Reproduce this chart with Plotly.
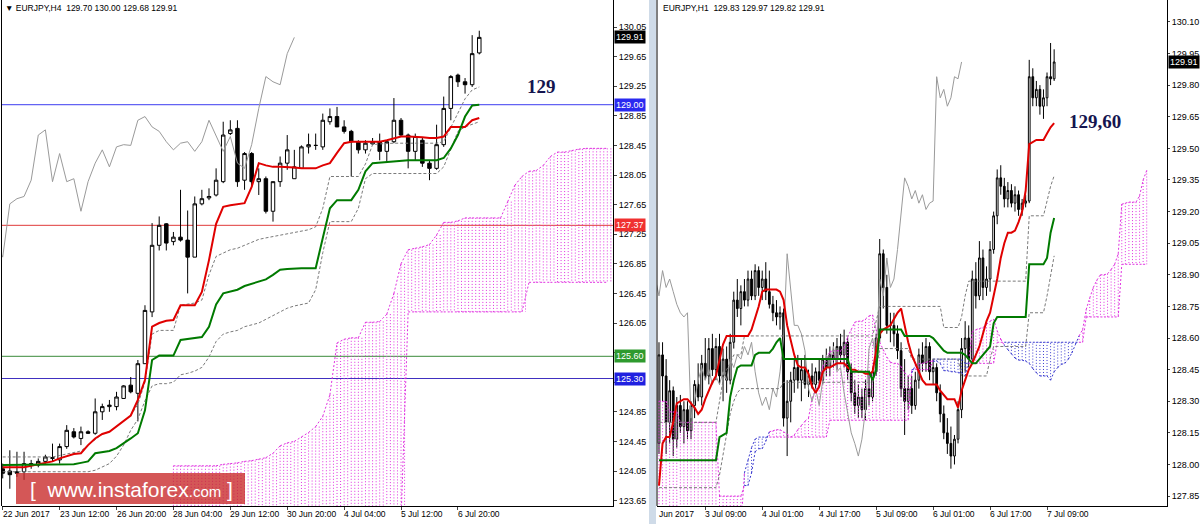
import plotly.graph_objects as go

W, H = 1200, 524

# ---------------- Left panel: EURJPY, H4 ----------------
L_open = [124.08,124.05,124.04,124.04,124.13,124.13,124.18,124.22,124.20,124.38,
          124.58,124.49,124.58,124.56,124.85,124.92,124.92,125.03,125.21,125.10,
          125.50,126.20,127.10,127.39,127.15,127.21,127.17,126.94,127.66,127.74,
          127.78,127.96,128.61,128.68,127.98,128.34,127.96,128.00,127.56,127.96,
          128.21,128.00,128.14,128.43,128.45,128.43,128.77,128.84,128.70,128.64,
          128.50,128.39,128.47,128.50,128.37,128.50,128.79,128.59,128.37,128.52,
          128.21,128.14,128.46,128.95,129.40,129.31,129.27,129.70]
L_high = [124.15,124.33,124.31,124.31,124.20,124.22,124.27,124.42,124.42,124.67,
          124.63,124.65,124.60,125.03,124.96,125.01,125.12,125.21,125.32,125.55,
          126.29,127.40,127.49,127.40,127.28,127.85,127.57,127.76,127.85,127.87,
          128.14,128.77,128.79,128.79,128.36,128.36,128.14,128.03,127.96,128.30,
          128.59,128.39,128.45,128.61,128.61,128.88,128.95,128.97,128.79,128.66,
          128.52,128.52,128.55,128.61,128.52,129.09,128.82,128.61,128.61,128.55,
          128.25,128.73,129.11,129.40,129.42,129.36,129.94,130.00]
L_low = [123.95,123.81,123.97,123.93,124.08,124.10,124.15,124.18,124.15,124.35,
         124.49,124.40,124.55,124.54,124.74,124.85,124.87,125.03,125.10,124.72,
         125.50,126.13,127.03,127.03,127.10,127.15,126.45,126.94,127.64,127.71,
         127.76,127.94,128.59,127.89,127.85,127.89,127.78,127.53,127.42,127.89,
         128.12,128.00,128.14,128.34,128.39,128.39,128.73,128.70,128.61,128.03,
         128.34,128.34,128.46,128.25,128.23,128.48,128.57,128.14,128.25,128.16,
         127.98,128.12,128.43,128.79,129.24,129.15,129.24,129.68]
L_close = [124.02,124.00,124.02,124.15,124.15,124.18,124.24,124.23,124.38,124.60,
           124.51,124.58,124.56,124.85,124.92,124.94,125.05,125.20,125.12,125.50,
           126.22,127.10,127.37,127.13,127.21,127.17,126.94,127.66,127.73,127.76,
           127.98,128.59,128.66,127.96,128.34,127.96,128.00,127.56,127.96,128.21,
           128.39,128.16,128.43,128.46,128.45,128.79,128.84,128.70,128.64,128.50,
           128.39,128.48,128.50,128.37,128.50,128.79,128.59,128.37,128.57,128.21,
           128.14,128.46,128.95,129.38,129.31,129.27,129.69,129.91]
L_tenkan = [124.10,124.10,124.10,124.10,124.12,124.14,124.16,124.18,124.22,124.25,
            124.28,124.29,124.40,124.49,124.55,124.58,124.65,124.72,124.80,125.01,
            125.28,126.00,126.05,126.08,126.09,126.29,126.29,126.29,126.47,126.90,
            127.39,127.62,127.64,127.66,127.67,127.89,128.21,128.18,128.16,128.16,
            128.16,128.15,128.14,128.14,128.14,128.18,128.21,128.35,128.48,128.50,
            128.50,128.50,128.50,128.50,128.52,128.55,128.57,128.57,128.57,128.56,
            128.55,128.55,128.57,128.70,128.70,128.70,128.79,128.82]
L_kijun = [124.13,124.13,124.13,124.13,124.13,124.13,124.13,124.13,124.13,124.13,
           124.14,124.16,124.18,124.29,124.30,124.32,124.36,124.42,124.49,124.56,
           124.87,125.55,125.61,125.61,125.61,125.82,125.83,125.85,125.86,126.00,
           126.30,126.45,126.47,126.50,126.55,126.58,126.60,126.64,126.70,126.77,
           126.78,126.79,126.79,126.79,126.79,127.20,127.60,127.71,127.71,127.71,
           127.85,128.10,128.21,128.22,128.23,128.24,128.25,128.25,128.25,128.25,
           128.25,128.25,128.28,128.41,128.59,128.84,128.99,129.00]
L_band_up = [124.24,124.24,124.24,124.24,124.24,124.24,124.24,124.24,124.26,124.28,
             124.30,124.32,124.40,124.48,124.55,124.58,124.65,124.72,124.80,124.95,
             125.25,125.90,125.95,125.95,125.95,126.29,126.30,126.32,126.36,126.70,
             126.95,127.00,127.04,127.06,127.10,127.15,127.18,127.20,127.22,127.24,
             127.26,127.28,127.30,127.31,127.35,127.60,128.03,128.03,128.03,128.03,
             128.03,128.20,128.46,128.47,128.48,128.48,128.48,128.48,128.48,128.48,
             128.48,128.48,128.50,128.70,128.90,129.08,129.20,129.24]
L_band_dn = [124.04,124.04,124.04,124.04,124.04,124.04,124.04,124.04,124.04,124.04,
             124.04,124.04,124.04,124.06,124.10,124.15,124.25,124.40,124.60,124.75,
             125.00,125.20,125.23,125.23,125.25,125.35,125.37,125.40,125.45,125.59,
             125.80,125.90,125.93,125.95,126.00,126.02,126.05,126.10,126.15,126.20,
             126.25,126.28,126.30,126.32,126.50,127.00,127.42,127.42,127.42,127.42,
             127.60,128.00,128.07,128.07,128.07,128.07,128.07,128.07,128.07,128.07,
             128.07,128.07,128.16,128.40,128.64,128.70,128.74,128.77]
L_cloud_start = 24
L_span_a = [124.12,124.12,
            124.12,124.12,124.12,124.12,124.12,124.14,124.15,124.16,124.18,124.19,
            124.21,124.23,124.29,124.39,124.43,124.45,124.51,124.57,124.65,124.79,
            125.08,125.78,125.83,125.85,125.85,126.06,126.06,126.07,126.17,126.45,
            126.85,127.04,127.06,127.08,127.11,127.24,127.41,127.41,127.43,127.47,
            127.47,127.47,127.47,127.47,127.47,127.69,127.91,128.03,128.10,128.11,
            128.18,128.30,128.36,128.36,128.38,128.40,128.41,128.41,128.41,128.41]
L_span_b = [123.40,123.40,
            123.40,123.40,123.40,123.40,123.40,123.40,123.40,123.40,123.40,123.40,
            123.40,123.40,123.40,123.40,123.40,123.40,123.40,123.40,123.40,123.40,
            123.40,123.40,123.40,123.40,123.40,123.40,123.40,123.40,123.40,123.40,
            123.40,126.20,126.20,126.20,126.20,126.20,126.20,126.20,126.20,126.20,
            126.20,126.20,126.20,126.20,126.20,126.20,126.20,126.20,126.60,126.60,
            126.60,126.60,126.60,126.60,126.60,126.60,126.60,126.60,126.60,126.60]
L_chikou_shift = 26
L_x_label_bars = [0, 8, 16, 24, 32, 40, 48, 56, 64]
L_x_labels = ["22 Jun 2017", "23 Jun 12:00", "26 Jun 20:00", "28 Jun 04:00", "29 Jun 12:00",
              "30 Jun 20:00", "4 Jul 04:00", "5 Jul 12:00", "6 Jul 20:00"]
L_y_ticks = ["123.65", "124.05", "124.45", "124.85", "125.25", "125.65", "126.05", "126.45",
             "126.85", "127.25", "127.65", "128.05", "128.45", "128.85", "129.25", "129.65", "130.05"]
L_levels = [129.00, 127.37, 125.60, 125.30]
L_header = "▼ EURJPY,H4  129.70 130.00 129.68 129.91"
L_note = "129"

# ---------------- Right panel: EURJPY, H1 ----------------
R_open = [128.10,128.52,128.42,128.20,128.35,128.12,128.28,128.18,128.26,128.16,
          128.28,128.38,128.32,128.48,128.42,128.55,128.45,128.56,128.42,128.50,
          128.40,128.58,128.78,128.74,128.82,128.78,128.88,128.80,128.92,128.84,
          128.88,128.82,128.76,128.72,128.70,128.72,128.22,128.30,128.40,128.46,
          128.40,128.45,128.38,128.42,128.38,128.44,128.40,128.50,128.46,128.52,
          128.50,128.56,128.52,128.58,128.44,128.34,128.28,128.32,128.26,128.36,
          128.32,128.44,128.60,129.00,128.84,128.66,128.66,128.62,128.54,128.36,
          128.30,128.36,128.28,128.40,128.52,128.48,128.56,128.44,128.46,128.34,
          128.24,128.15,128.10,128.04,128.12,128.26,128.55,128.60,128.50,128.88,
          128.80,128.98,128.84,128.88,129.02,129.18,129.36,129.32,129.26,129.30,
          129.24,129.28,129.21,129.24,129.25,129.84,129.74,129.78,129.70,129.74,
          129.84,129.83]
R_high = [128.58,128.58,128.50,128.40,128.37,128.32,128.33,128.30,128.30,128.30,
          128.40,128.48,128.52,128.60,128.60,128.62,128.60,128.62,128.55,128.56,
          128.62,128.82,128.88,128.85,128.88,128.92,128.92,128.95,128.94,128.92,
          128.96,128.92,128.80,128.78,128.75,128.74,128.40,128.44,128.50,128.52,
          128.50,128.52,128.45,128.48,128.46,128.50,128.52,128.55,128.56,128.58,
          128.60,128.62,128.64,128.60,128.48,128.40,128.38,128.36,128.40,128.44,
          128.46,128.62,129.07,129.02,128.90,128.72,128.72,128.66,128.58,128.50,
          128.42,128.42,128.44,128.55,128.58,128.60,128.58,128.50,128.48,128.38,
          128.28,128.22,128.18,128.14,128.30,128.60,128.68,128.66,128.92,128.96,
          129.06,129.02,128.94,129.06,129.20,129.40,129.42,129.36,129.34,129.33,
          129.32,129.30,129.26,129.28,129.92,129.88,129.82,129.80,129.78,129.86,
          130.00,129.97]
R_low = [128.05,128.30,128.05,128.10,128.04,128.08,128.15,128.10,128.12,128.12,
         128.22,128.30,128.28,128.40,128.38,128.42,128.40,128.38,128.30,128.34,
         128.38,128.55,128.70,128.66,128.75,128.75,128.78,128.78,128.80,128.78,
         128.78,128.74,128.68,128.66,128.64,128.18,128.04,128.20,128.34,128.36,
         128.30,128.36,128.32,128.36,128.34,128.38,128.38,128.42,128.42,128.46,
         128.45,128.48,128.46,128.40,128.30,128.24,128.22,128.22,128.21,128.28,
         128.30,128.42,128.58,128.74,128.62,128.58,128.56,128.50,128.32,128.14,
         128.26,128.24,128.26,128.36,128.44,128.44,128.40,128.38,128.30,128.20,
         128.12,128.05,127.98,128.00,128.10,128.22,128.44,128.46,128.48,128.74,
         128.78,128.78,128.80,128.82,129.00,129.14,129.28,129.22,129.22,129.22,
         129.20,129.18,129.18,129.22,129.24,129.70,129.70,129.66,129.64,129.70,
         129.80,129.82]
R_close = [128.52,128.42,128.20,128.35,128.12,128.28,128.18,128.26,128.16,128.28,
           128.38,128.32,128.48,128.42,128.55,128.45,128.56,128.42,128.50,128.40,
           128.58,128.78,128.74,128.82,128.78,128.88,128.80,128.92,128.84,128.88,
           128.82,128.76,128.72,128.70,128.72,128.22,128.30,128.40,128.46,128.40,
           128.45,128.38,128.42,128.38,128.44,128.40,128.50,128.46,128.52,128.50,
           128.56,128.52,128.58,128.44,128.34,128.28,128.32,128.26,128.36,128.32,
           128.44,128.60,129.00,128.84,128.66,128.66,128.62,128.54,128.36,128.30,
           128.36,128.28,128.40,128.52,128.48,128.56,128.44,128.46,128.34,128.24,
           128.15,128.10,128.04,128.12,128.26,128.55,128.60,128.50,128.88,128.80,
           128.98,128.84,128.88,129.02,129.18,129.36,129.32,129.26,129.30,129.24,
           129.28,129.21,129.24,129.25,129.84,129.74,129.78,129.70,129.74,129.84,
           129.83,129.91]
R_tenkan = [127.90,128.10,128.13,128.13,128.20,128.29,128.30,128.31,128.31,128.29,
            128.27,128.24,128.26,128.31,128.35,128.39,128.42,128.50,128.57,128.61,
            128.61,128.61,128.61,128.61,128.61,128.61,128.64,128.69,128.75,128.82,
            128.83,128.83,128.83,128.83,128.82,128.78,128.66,128.59,128.52,128.47,
            128.46,128.46,128.43,128.37,128.34,128.37,128.44,128.46,128.46,128.47,
            128.48,128.48,128.48,128.46,128.45,128.45,128.44,128.44,128.43,128.43,
            128.44,128.54,128.62,128.64,128.65,128.66,128.69,128.72,128.74,128.66,
            128.58,128.52,128.48,128.44,128.40,128.38,128.38,128.38,128.38,128.35,
            128.33,128.31,128.31,128.31,128.27,128.35,128.40,128.45,128.48,128.52,
            128.56,128.62,128.68,128.72,128.80,128.88,128.98,129.05,129.10,129.10,
            129.11,129.15,129.20,129.30,129.52,129.53,129.54,129.54,129.54,129.57,
            129.60,129.62]
R_kijun = [128.02,128.02,128.02,128.02,128.02,128.02,128.02,128.02,128.02,128.02,
           128.02,128.02,128.02,128.02,128.02,128.02,128.02,128.13,128.14,128.15,
           128.32,128.40,128.46,128.47,128.47,128.47,128.47,128.52,128.53,128.53,
           128.53,128.53,128.55,128.58,128.60,128.50,128.50,128.50,128.50,128.50,
           128.50,128.50,128.50,128.50,128.50,128.50,128.50,128.50,128.50,128.50,
           128.50,128.50,128.50,128.50,128.44,128.44,128.44,128.44,128.44,128.44,
           128.40,128.45,128.64,128.64,128.64,128.64,128.64,128.64,128.64,128.61,
           128.61,128.61,128.61,128.61,128.61,128.61,128.61,128.60,128.58,128.56,
           128.54,128.53,128.53,128.53,128.53,128.53,128.52,128.50,128.48,128.48,
           128.50,128.52,128.54,128.56,128.67,128.70,128.70,128.70,128.70,128.70,
           128.70,128.70,128.70,128.70,128.95,128.95,128.95,128.95,128.95,128.98,
           129.10,129.17]
R_band_up = [128.20,128.20,128.20,128.20,128.20,128.20,128.20,128.20,128.20,128.20,
             128.20,128.20,128.20,128.20,128.20,128.20,128.20,128.30,128.40,128.45,
             128.48,128.52,128.52,128.52,128.61,128.61,128.61,128.61,128.61,128.61,
             128.61,128.61,128.61,128.61,128.61,128.61,128.61,128.61,128.61,128.61,
             128.61,128.61,128.61,128.61,128.61,128.61,128.61,128.61,128.61,128.61,
             128.61,128.61,128.61,128.61,128.61,128.61,128.61,128.61,128.61,128.61,
             128.61,128.68,128.75,128.75,128.75,128.75,128.75,128.75,128.75,128.75,
             128.75,128.75,128.75,128.75,128.75,128.75,128.75,128.75,128.75,128.75,
             128.65,128.65,128.65,128.65,128.65,128.70,128.80,128.87,128.87,128.87,
             128.87,128.87,128.87,128.87,128.87,128.87,128.87,128.87,128.87,128.87,
             128.87,128.87,128.87,128.87,129.18,129.18,129.18,129.18,129.18,129.25,
             129.32,129.37]
R_band_dn = [127.89,127.89,127.89,127.89,127.89,127.89,127.89,127.89,127.89,127.89,
             127.89,127.89,127.89,127.89,127.89,127.89,127.89,127.95,128.05,128.15,
             128.24,128.30,128.34,128.36,128.36,128.36,128.36,128.36,128.36,128.36,
             128.36,128.36,128.36,128.36,128.36,128.39,128.39,128.39,128.39,128.39,
             128.39,128.39,128.39,128.39,128.39,128.39,128.39,128.39,128.39,128.39,
             128.39,128.39,128.39,128.39,128.39,128.39,128.39,128.39,128.39,128.39,
             128.39,128.45,128.55,128.55,128.55,128.55,128.55,128.55,128.55,128.55,
             128.55,128.50,128.50,128.50,128.50,128.50,128.50,128.50,128.50,128.50,
             128.50,128.50,128.50,128.50,128.50,128.42,128.42,128.42,128.42,128.42,
             128.42,128.42,128.42,128.50,128.56,128.56,128.56,128.56,128.56,128.56,
             128.56,128.56,128.56,128.56,128.72,128.72,128.72,128.72,128.72,128.80,
             128.90,128.99]
R_cloud_start = 0
R_span_a = [128.30,128.30,128.30,128.25,128.25,128.25,128.20,128.20,128.20,128.20,
            128.20,128.20,128.20,128.20,128.20,128.20,128.20,127.85,127.85,127.85,
            127.85,127.85,127.85,127.85,127.90,127.90,127.96,128.06,128.075,128.075,
            128.11,128.155,128.16,128.165,128.165,128.155,128.145,128.13,128.14,128.165,
            128.185,128.205,128.22,128.315,128.355,128.38,128.465,128.505,128.535,128.54,
            128.54,128.54,128.555,128.605,128.64,128.675,128.68,128.68,128.69,128.705,
            128.71,128.64,128.58,128.545,128.51,128.485,128.48,128.48,128.465,128.435,
            128.42,128.435,128.47,128.48,128.48,128.485,128.49,128.49,128.49,128.48,
            128.445,128.445,128.44,128.44,128.435,128.435,128.42,128.495,128.63,128.64,
            128.645,128.65,128.665,128.68,128.69,128.635,128.595,128.565,128.545,128.525,
            128.505,128.495,128.495,128.49,128.48,128.455,128.435,128.42,128.42,128.42,
            128.40,128.44,128.46,128.475,128.48,128.50,128.53,128.57,128.61,128.64,
            128.735,128.79,128.84,128.875,128.90,128.90,128.905,128.925,128.95,129.00,
            129.235,129.24,129.245,129.245,129.245,129.275,129.35,129.395]
R_span_b = [127.70,127.70,127.70,127.70,127.70,127.70,127.70,127.70,127.70,127.70,
            127.70,127.70,127.70,127.70,127.70,127.70,127.70,127.70,127.70,127.70,
            127.70,127.70,127.70,127.70,127.96,128.02,128.08,128.12,128.13,128.13,
            128.13,128.13,128.13,128.13,128.13,128.13,128.13,128.13,128.13,128.13,
            128.13,128.13,128.13,128.13,128.13,128.13,128.13,128.13,128.21,128.21,
            128.21,128.21,128.21,128.21,128.21,128.21,128.21,128.21,128.21,128.21,
            128.21,128.21,128.21,128.21,128.21,128.21,128.21,128.21,128.21,128.21,
            128.21,128.45,128.45,128.45,128.45,128.45,128.45,128.50,128.50,128.50,
            128.50,128.50,128.50,128.50,128.50,128.50,128.48,128.48,128.48,128.48,
            128.48,128.48,128.48,128.48,128.48,128.58,128.58,128.58,128.58,128.58,
            128.58,128.58,128.58,128.58,128.58,128.58,128.58,128.58,128.58,128.58,
            128.58,128.58,128.58,128.58,128.58,128.58,128.58,128.58,128.58,128.58,
            128.70,128.70,128.70,128.70,128.70,128.70,128.70,128.70,128.70,128.70,
            128.95,128.95,128.95,128.95,128.95,128.95,128.95,128.95]
R_chikou_shift = 26
R_x_label_bars = [13, 29, 45, 61, 77, 93, 109]
R_x_labels = ["3 Jul 09:00", "4 Jul 01:00", "4 Jul 17:00", "5 Jul 09:00",
              "6 Jul 01:00", "6 Jul 17:00", "7 Jul 09:00"]
R_first_label = "Jun 2017"
R_y_ticks = ["127.85", "128.00", "128.15", "128.30", "128.45", "128.60", "128.75", "128.90",
             "129.05", "129.20", "129.35", "129.50", "129.65", "129.80", "129.95", "130.10"]
R_header = "EURJPY,H1  129.83 129.97 129.82 129.91"
R_note = "129,60"

# ---------------- styles ----------------
FONT = "Liberation Sans"
C_TENKAN = "#e00000"
C_KIJUN = "#007a00"
C_CHIKOU = "#9a9a9a"
C_BAND = "#7a7a7a"
C_UP = "#e030e0"
C_DN = "#3a3ad0"
LEVEL_COLORS = ["#2a2af0", "#f03030", "#2e9a2e", "#2020e0"]
LEVEL_LINE_COLORS = ["#3c3cf0", "#e03a3a", "#3a8a3a", "#4030c0"]


def px_x(p):
    return p / W


def px_y(p):
    return 1 - p / H


fig = go.Figure()


def hatch(start, a, b, offsets):
    up_x, up_y, dn_x, dn_y = [], [], [], []
    for k, (va, vb) in enumerate(zip(a, b)):
        j = start + k
        for off in offsets:
            if va >= vb:
                up_x += [j + off, j + off, None]
                up_y += [va, vb, None]
            else:
                dn_x += [j + off, j + off, None]
                dn_y += [va, vb, None]
    return up_x, up_y, dn_x, dn_y


def edges(start, a, b):
    up_x, up_y, dn_x, dn_y = [], [], [], []
    for k in range(len(a) - 1):
        j = start + k
        tx, ty = (up_x, up_y) if a[k] >= b[k] else (dn_x, dn_y)
        tx += [j, j + 1, None, j, j + 1, None]
        ty += [a[k], a[k + 1], None, b[k], b[k + 1], None]
    return up_x, up_y, dn_x, dn_y


def add_panel(xa, ya, o, h, l, c, tenkan, kijun, bup, bdn, cstart, sa, sb, shift, offsets):
    n = len(c)
    idx = list(range(n))
    common = dict(xaxis=xa, yaxis=ya, showlegend=False, hoverinfo="skip")
    ux, uy, dx, dy = hatch(cstart, sa, sb, offsets)
    fig.add_trace(go.Scatter(x=ux, y=uy, mode="lines",
                             line=dict(color=C_UP, width=1, dash="1px,2px"), **common))
    fig.add_trace(go.Scatter(x=dx, y=dy, mode="lines",
                             line=dict(color=C_DN, width=1, dash="1px,2px"), **common))
    ex, ey, fx, fy = edges(cstart, sa, sb)
    fig.add_trace(go.Scatter(x=ex, y=ey, mode="lines",
                             line=dict(color=C_UP, width=1, dash="2px,2px"), **common))
    fig.add_trace(go.Scatter(x=fx, y=fy, mode="lines",
                             line=dict(color=C_DN, width=1, dash="2px,2px"), **common))
    fig.add_trace(go.Scatter(x=[i - shift for i in idx], y=c, mode="lines",
                             line=dict(color=C_CHIKOU, width=1), **common))
    fig.add_trace(go.Scatter(x=idx, y=bup, mode="lines",
                             line=dict(color=C_BAND, width=1, dash="3px,2px"), **common))
    fig.add_trace(go.Scatter(x=idx, y=bdn, mode="lines",
                             line=dict(color=C_BAND, width=1, dash="3px,2px"), **common))
    fig.add_trace(go.Candlestick(x=idx, open=o, high=h, low=l, close=c, whiskerwidth=0,
                                 increasing=dict(line=dict(color="black", width=1), fillcolor="white"),
                                 decreasing=dict(line=dict(color="black", width=1), fillcolor="black"),
                                 **common))
    fig.add_trace(go.Scatter(x=idx, y=tenkan, mode="lines",
                             line=dict(color=C_TENKAN, width=2), **common))
    fig.add_trace(go.Scatter(x=idx, y=kijun, mode="lines",
                             line=dict(color=C_KIJUN, width=2), **common))


add_panel("x", "y", L_open, L_high, L_low, L_close, L_tenkan, L_kijun, L_band_up, L_band_dn,
          L_cloud_start, L_span_a, L_span_b, L_chikou_shift, [0.0, 0.5])
add_panel("x2", "y2", R_open, R_high, R_low, R_close, R_tenkan, R_kijun, R_band_up, R_band_dn,
          R_cloud_start, R_span_a, R_span_b, R_chikou_shift, [0.0])

# tick labels hidden behind the coloured level labels (as in the terminal)
L_covered = {"125.65", "125.25"}
L_tick_text = ["" if t in L_covered else t for t in L_y_ticks]

ydom = [px_y(506), 1]
axis_common = dict(showgrid=False, zeroline=False, showline=True, linecolor="black", linewidth=1,
                   fixedrange=True)
fig.update_layout(
    width=W, height=H, margin=dict(l=0, r=0, t=0, b=0),
    paper_bgcolor="white", plot_bgcolor="white", showlegend=False,
    xaxis=dict(domain=[px_x(2), px_x(613)], range=[-0.1, 85.8], anchor="y",
               ticks="outside", ticklen=3, tickvals=L_x_label_bars, showticklabels=False,
               rangeslider=dict(visible=False), **axis_common),
    yaxis=dict(domain=ydom, range=[123.577, 130.415], anchor="x", side="right",
               ticks="outside", ticklen=3, tickvals=[float(t) for t in L_y_ticks], ticktext=L_tick_text,
               tickfont=dict(family=FONT, size=9, color="black"), **axis_common),
    xaxis2=dict(domain=[px_x(657), px_x(1167)], range=[-0.56, 142.7], anchor="y2",
                ticks="outside", ticklen=3, tickvals=R_x_label_bars, showticklabels=False,
                rangeslider=dict(visible=False), **axis_common),
    yaxis2=dict(domain=ydom, range=[127.803, 130.204], anchor="x2", side="right",
                ticks="outside", ticklen=2, tickvals=[float(t) for t in R_y_ticks], ticktext=R_y_ticks,
                tickfont=dict(family=FONT, size=9, color="black"), **axis_common),
)

shapes = []
shapes.append(dict(type="line", xref="paper", yref="paper", x0=px_x(1.5), x1=px_x(1.5),
                   y0=px_y(506), y1=1, line=dict(color="black", width=1)))
shapes.append(dict(type="rect", xref="paper", yref="paper", x0=px_x(649), x1=px_x(656),
                   y0=0, y1=1, fillcolor="#cfdbe8", line=dict(width=0), layer="below"))
shapes.append(dict(type="line", xref="paper", yref="paper", x0=px_x(657), x1=px_x(657),
                   y0=px_y(506), y1=1, line=dict(color="black", width=1)))
for lv, col in zip(L_levels, LEVEL_LINE_COLORS):
    shapes.append(dict(type="line", xref="x domain", yref="y", x0=0, x1=1, y0=lv, y1=lv,
                       line=dict(color=col, width=1), layer="below"))
shapes.append(dict(type="rect", xref="paper", yref="paper", x0=px_x(16), x1=px_x(245),
                   y0=px_y(504), y1=px_y(473), fillcolor="rgba(200,40,40,0.78)",
                   line=dict(width=0)))
fig.update_layout(shapes=shapes)

ann = []
small = dict(family=FONT, size=8.5, color="black")
for b, t in zip(L_x_label_bars, L_x_labels):
    ann.append(dict(xref="x", yref="paper", x=b, y=px_y(514), text=t, xanchor="left",
                    yanchor="middle", showarrow=False, font=small, xshift=-2))
for b, t in zip(R_x_label_bars, R_x_labels):
    ann.append(dict(xref="x2", yref="paper", x=b, y=px_y(514), text=t, xanchor="left",
                    yanchor="middle", showarrow=False, font=small, xshift=-2))
ann.append(dict(xref="paper", yref="paper", x=px_x(657), y=px_y(514), text=R_first_label,
                xanchor="left", yanchor="middle", showarrow=False, font=small))
for lv, col in zip(L_levels, LEVEL_COLORS):
    ann.append(dict(xref="paper", yref="y", x=px_x(614), y=lv, text=f"{lv:.2f}", xanchor="left",
                    yanchor="middle", showarrow=False, bgcolor=col, borderpad=1,
                    font=dict(family=FONT, size=9, color="white")))
ann.append(dict(xref="paper", yref="y", x=px_x(614), y=L_close[-1], text=f"{L_close[-1]:.2f}",
                xanchor="left", yanchor="middle", showarrow=False, bgcolor="black", borderpad=1,
                font=dict(family=FONT, size=9, color="white")))
ann.append(dict(xref="paper", yref="y2", x=px_x(1168), y=R_close[-1], text=f"{R_close[-1]:.2f}",
                xanchor="left", yanchor="middle", showarrow=False, bgcolor="black", borderpad=1,
                font=dict(family=FONT, size=9, color="white")))
ann.append(dict(xref="paper", yref="paper", x=px_x(3), y=px_y(8), text=L_header, xanchor="left",
                yanchor="middle", showarrow=False, font=small))
ann.append(dict(xref="paper", yref="paper", x=px_x(661), y=px_y(8), text=R_header, xanchor="left",
                yanchor="middle", showarrow=False, font=small))
note_font = dict(family="Liberation Serif", size=19, color="#15154f")
ann.append(dict(xref="paper", yref="paper", x=px_x(541), y=px_y(86), text=f"<b>{L_note}</b>",
                xanchor="center", yanchor="middle", showarrow=False, font=note_font))
ann.append(dict(xref="paper", yref="paper", x=px_x(1095), y=px_y(121), text=f"<b>{R_note}</b>",
                xanchor="center", yanchor="middle", showarrow=False, font=note_font))
ann.append(dict(xref="paper", yref="paper", x=px_x(131), y=px_y(489),
                text="[\u00a0\u00a0www.instaforex<span style='font-size:15px'>.com</span>\u00a0]",
                xanchor="center", yanchor="middle", showarrow=False,
                font=dict(family=FONT, size=21, color="white")))
fig.update_layout(annotations=ann)

fig.write_html("out.html", config={"displayModeBar": False},
               post_script="document.body.style.margin='0';document.body.style.padding='0';"
                           "document.body.style.overflow='hidden';")
